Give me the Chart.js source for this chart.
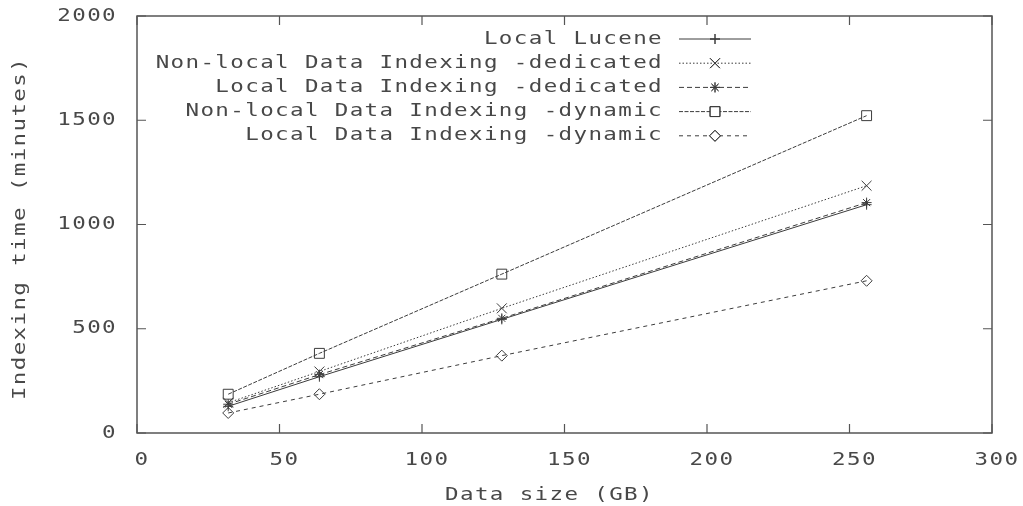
<!DOCTYPE html>
<html>
<head>
<meta charset="utf-8">
<script src="https://cdn.jsdelivr.net/npm/chart.js"></script>
<style>
  html, body { margin: 0; padding: 0; background: #fff; }
  #wrap { width: 1023px; height: 506px; }
</style>
</head>
<body>
<div id="wrap"><canvas id="chart"></canvas></div>
<script>
// data
const dataSizes = [32, 64, 128, 256];
const localLucene = [128, 270, 545, 1095];
const nonLocalDedicated = [145, 295, 598, 1186];
const localDedicated = [138, 280, 550, 1105];
const nonLocalDynamic = [186, 382, 762, 1522];
const localDynamic = [96, 186, 371, 730];

const seriesNames = [
    'Local Lucene',
    'Non-local Data Indexing -dedicated',
    'Local Data Indexing -dedicated',
    'Non-local Data Indexing -dynamic',
    'Local Data Indexing -dynamic'
];
const xTicks = [0, 50, 100, 150, 200, 250, 300];
const yTicks = [0, 500, 1000, 1500, 2000];
const xTitle = 'Data size (GB)';
const yTitle = 'Indexing time (minutes)';

const ink = '#3c3c3c';
const textInk = '#484848';
const FONT = '18px "DejaVu Sans Mono"';
const STRETCH = 1.25;

function toPoints(values) {
    return dataSizes.map((x, i) => ({ x: x, y: values[i] }));
}

function series(label, values, dash, style, radius) {
    return {
        label: label,
        data: toPoints(values),
        borderColor: ink,
        borderWidth: 1,
        borderDash: dash,
        pointStyle: style,
        pointRadius: radius,
        pointBorderColor: ink,
        pointBorderWidth: 1,
        pointBackgroundColor: 'rgba(0,0,0,0)',
        fill: false,
        tension: 0
    };
}

function wideText(ctx, str, x, y, align, rot) {
    ctx.save();
    ctx.translate(x, y);
    if (rot) ctx.rotate(rot);
    ctx.scale(STRETCH, 1);
    ctx.font = FONT;
    ctx.letterSpacing = '1.1px';
    ctx.fillStyle = textInk;
    ctx.textAlign = align;
    ctx.textBaseline = 'middle';
    ctx.fillText(str, 0, 0);
    ctx.restore();
}

// frame, inward ticks, labels and key drawn in gnuplot style
const gnuplotLook = {
    id: 'gnuplotLook',
    afterDatasetsDraw(chart) {
        const ctx = chart.ctx;
        const a = chart.chartArea;
        const xs = chart.scales.x;
        const ys = chart.scales.y;
        const tickLen = 9;

        ctx.save();
        ctx.strokeStyle = '#555';
        ctx.lineWidth = 1.5;
        ctx.strokeRect(a.left, a.top, a.right - a.left, a.bottom - a.top);

        ctx.lineWidth = 1.2;
        ctx.beginPath();
        xTicks.forEach(v => {
            const px = xs.getPixelForValue(v);
            ctx.moveTo(px, a.bottom); ctx.lineTo(px, a.bottom - tickLen);
            ctx.moveTo(px, a.top); ctx.lineTo(px, a.top + tickLen);
        });
        yTicks.forEach(v => {
            const py = ys.getPixelForValue(v);
            ctx.moveTo(a.left, py); ctx.lineTo(a.left + tickLen, py);
            ctx.moveTo(a.right, py); ctx.lineTo(a.right - tickLen, py);
        });
        ctx.stroke();
        ctx.restore();

        xTicks.forEach(v => wideText(ctx, String(v), xs.getPixelForValue(v) + 5, a.bottom + 27, 'center'));
        yTicks.forEach(v => wideText(ctx, String(v), a.left - 20, ys.getPixelForValue(v), 'right'));
        wideText(ctx, xTitle, (a.left + a.right) / 2 - 15, a.bottom + 62, 'center');
        wideText(ctx, yTitle, 20, (a.top + a.bottom) / 2 + 4, 'center', -Math.PI / 2);

        // key, top right inside the plot
        chart.data.datasets.forEach((ds, i) => {
            const y = a.top + 23 + i * 24.2;
            wideText(ctx, ds.label, 663, y, 'right');
            ctx.save();
            ctx.strokeStyle = ink;
            ctx.lineWidth = 1;
            ctx.setLineDash(ds.borderDash || []);
            ctx.beginPath();
            ctx.moveTo(679, y);
            ctx.lineTo(751, y);
            ctx.stroke();
            ctx.setLineDash([]);
            ctx.fillStyle = '#fff';
            if (Chart.helpers && Chart.helpers.drawPoint) {
                Chart.helpers.drawPoint(ctx, {
                    pointStyle: ds.pointStyle,
                    radius: ds.pointRadius,
                    rotation: 0,
                    borderWidth: 1
                }, 715, y);
                ctx.stroke();
            }
            ctx.restore();
        });
    }
};

new Chart(document.getElementById('chart'), {
    type: 'line',
    data: {
        datasets: [
            series(seriesNames[0], localLucene, [], 'cross', 5),
            series(seriesNames[1], nonLocalDedicated, [1.5, 2], 'crossRot', 7),
            series(seriesNames[2], localDedicated, [5, 3], 'star', 5),
            series(seriesNames[3], nonLocalDynamic, [4, 1.5], 'rect', 7),
            series(seriesNames[4], localDynamic, [4, 4], 'rectRot', 5.5)
        ]
    },
    options: {
        responsive: true,
        maintainAspectRatio: false,
        animation: false,
        devicePixelRatio: 1,
        layout: { padding: { left: 137, right: 31, top: 16, bottom: 73 } },
        plugins: {
            legend: { display: false },
            tooltip: { enabled: false }
        },
        scales: {
            x: {
                type: 'linear',
                min: 0,
                max: 300,
                grid: { display: false },
                border: { display: false },
                ticks: { display: false, stepSize: 50 },
                afterFit: s => { s.height = 0; }
            },
            y: {
                type: 'linear',
                min: 0,
                max: 2000,
                grid: { display: false },
                border: { display: false },
                ticks: { display: false, stepSize: 500 },
                afterFit: s => { s.width = 0; }
            }
        }
    },
    plugins: [gnuplotLook]
});
</script>
</body>
</html>
